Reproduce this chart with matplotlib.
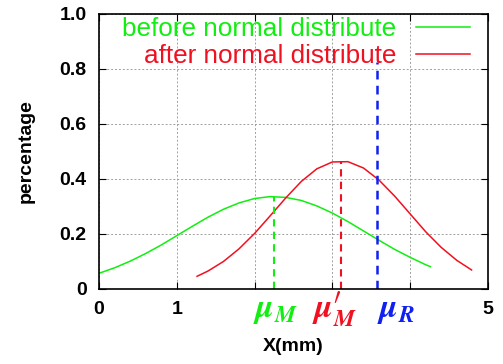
import matplotlib
matplotlib.use('Agg')
import matplotlib.pyplot as plt

# data
x_before = [0.0, 0.2, 0.4, 0.6, 0.8, 1.0, 1.2, 1.4, 1.6, 1.8, 2.0, 2.2,
            2.4, 2.6, 2.8, 3.0, 3.2, 3.4, 3.6, 3.8, 4.0, 4.2, 4.26]
y_before = [0.056, 0.076, 0.100, 0.128, 0.159, 0.193, 0.227, 0.260, 0.289,
            0.312, 0.328, 0.335, 0.332, 0.321, 0.301, 0.275, 0.244, 0.210,
            0.176, 0.143, 0.114, 0.087, 0.080]
x_after = [1.26, 1.4, 1.6, 1.8, 2.0, 2.2, 2.4, 2.6, 2.8, 3.0, 3.2, 3.4,
           3.6, 3.8, 4.0, 4.2, 4.4, 4.6, 4.79]
y_after = [0.045, 0.064, 0.099, 0.145, 0.201, 0.265, 0.330, 0.390, 0.436,
           0.461, 0.462, 0.439, 0.395, 0.337, 0.272, 0.207, 0.150, 0.103,
           0.068]

# vertical markers: position, height
mu_m, mu_m_h = 2.25, 0.335
mu_m2, mu_m2_h = 3.11, 0.463
mu_r, mu_r_h = 3.57, 0.825

labels = ['before normal distribute', 'after normal distribute']
xticks = [0, 1, 2, 3, 4, 5]
xticklabels = ['0', '1', '', '', '', '5']
yticks = [0, 0.2, 0.4, 0.6, 0.8, 1.0]
yticklabels = ['0', '0.2', '0.4', '0.6', '0.8', '1.0']

green = '#11ee11'
red = '#f01020'
blue = '#1020f0'

plt.rcParams['font.family'] = ['Liberation Sans', 'DejaVu Sans']
plt.rcParams['mathtext.fontset'] = 'cm'

fig = plt.figure(figsize=(5.03, 3.64), dpi=100)
ax = fig.add_axes([0.197, 0.207, 0.773, 0.755])

l1, = ax.plot(x_before, y_before, color=green, lw=1.1)
l2, = ax.plot(x_after, y_after, color=red, lw=1.1)

ax.plot([mu_m, mu_m], [0, mu_m_h], color=green, lw=1.5, dashes=(3.5, 2.5))
ax.plot([mu_m2, mu_m2], [0, mu_m2_h], color=red, lw=1.5, dashes=(3.5, 2.5))
ax.plot([mu_r, mu_r], [0, mu_r_h], color=blue, lw=1.8, dashes=(3.5, 2.5))

ax.set_xlim(0, 5)
ax.set_ylim(0, 1)
ax.set_xticks(xticks)
ax.set_xticklabels(xticklabels)
ax.set_yticks(yticks)
ax.set_yticklabels(yticklabels)
ax.tick_params(direction='in', top=True, right=True, length=5, width=0.8,
               labelsize=14, pad=9)
for t in ax.get_xticklabels() + ax.get_yticklabels():
    t.set_fontweight('bold')
ax.grid(True, color='#a0a0a0', lw=0.7, linestyle=(0, (2, 2)))
for s in ax.spines.values():
    s.set_linewidth(1.2)

ax.set_xlabel('X(mm)', fontsize=14, fontweight='bold', labelpad=14)
ax.set_ylabel('percentage', fontsize=14, fontweight='bold', labelpad=18)

# mu labels under the axis
trans = ax.get_xaxis_transform()
ax.text(mu_m + 0.02, -0.078, r'$\boldsymbol{\mu}_{\boldsymbol{M}}$', color=green,
        fontsize=24, ha='center', va='center', transform=trans)
ax.text(mu_m2 - 0.08, -0.078,
        r"$\boldsymbol{\mu}^{\boldsymbol{\prime}}_{\boldsymbol{M}}$",
        color=red, fontsize=24, ha='center', va='center', transform=trans)
ax.text(mu_r + 0.25, -0.078, r'$\boldsymbol{\mu}_{\boldsymbol{R}}$',
        color=blue, fontsize=24, ha='center', va='center', transform=trans)

leg = ax.legend([l1, l2], labels, loc='upper right',
                bbox_to_anchor=(0.955, 0.988), frameon=False, fontsize=18.8,
                markerfirst=False, handlelength=2.1, handletextpad=0.75,
                labelspacing=0.1, borderpad=0.0, borderaxespad=0.0)
leg.get_texts()[0].set_color(green)
leg.get_texts()[1].set_color(red)
# right-align the entries like the original
for col in leg._legend_handle_box.get_children():
    col.align = 'right'

fig.savefig('out.png', dpi=100)
